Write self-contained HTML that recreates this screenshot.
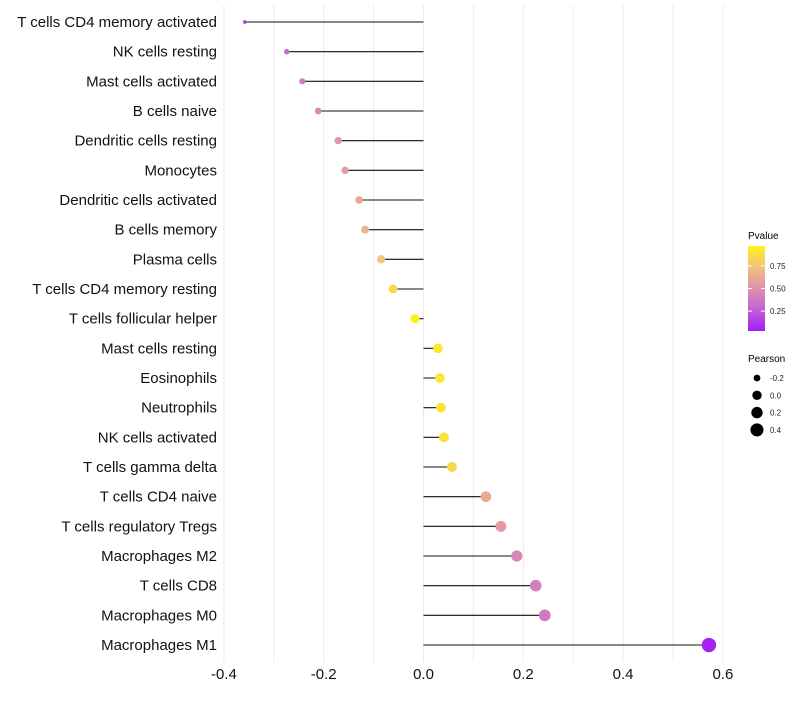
<!DOCTYPE html>
<html><head><meta charset="utf-8"><style>
body{margin:0;background:#fff;font-family:"Liberation Sans",sans-serif}
</style></head><body>
<svg id="chart" width="800" height="700" xmlns="http://www.w3.org/2000/svg" font-family="Liberation Sans, sans-serif">
<defs><linearGradient id="pg" x1="0" y1="1" x2="0" y2="0">
<stop offset="0" stop-color="#a21ff5"/><stop offset="0.3" stop-color="#c86cd0"/><stop offset="0.5" stop-color="#df90ac"/><stop offset="0.75" stop-color="#f3c07e"/><stop offset="1" stop-color="#fff21a"/></linearGradient></defs>
<g id="grid"></g>
<g id="marks"></g>
<g id="ylab"></g>
<g id="xlab"></g>
<g>
<text x="748" y="239" font-size="10">Pvalue</text>
<rect x="748" y="246" width="17" height="85" fill="url(#pg)"/>
<g id="cbticks"></g>
</g>
<g id="sizeleg">
<text x="748" y="362" font-size="10">Pearson</text>
</g>
</svg>
<script>
const categories=["T cells CD4 memory activated","NK cells resting","Mast cells activated","B cells naive","Dendritic cells resting","Monocytes","Dendritic cells activated","B cells memory","Plasma cells","T cells CD4 memory resting","T cells follicular helper","Mast cells resting","Eosinophils","Neutrophils","NK cells activated","T cells gamma delta","T cells CD4 naive","T cells regulatory  Tregs ","Macrophages M2","T cells CD8","Macrophages M0","Macrophages M1"];
const pearson=[-0.358,-0.274,-0.243,-0.211,-0.171,-0.157,-0.129,-0.117,-0.085,-0.061,-0.017,0.029,0.033,0.035,0.041,0.057,0.125,0.155,0.187,0.225,0.243,0.572];
const pvalues=[0.12,0.3,0.38,0.45,0.52,0.56,0.63,0.67,0.77,0.86,0.96,0.93,0.92,0.91,0.9,0.86,0.63,0.55,0.45,0.4,0.38,0.04];
const xTicks=[-0.4,-0.2,0,0.2,0.4,0.6];
const cbTicks=[0.25,0.5,0.75];
const sizeTicks=[-0.2,0,0.2,0.4];
const NS="http://www.w3.org/2000/svg";
const X=v=>423.5+v*499;
const Y=i=>22+i*29.667;
const R=v=>Math.sqrt(Math.max(1,22+52*v));
const cbY=p=>331-(p-0.03)/(0.97-0.03)*85;
function col(p){const s=[[0.03,[162,31,245]],[0.3,[200,108,208]],[0.5,[223,144,172]],[0.75,[243,192,126]],[0.97,[255,242,26]]];
 p=Math.min(0.97,Math.max(0.03,p));for(let k=0;k<s.length-1;k++){if(p<=s[k+1][0]){const t=(p-s[k][0])/(s[k+1][0]-s[k][0]);const c=s[k][1].map((a,j)=>Math.round(a+(s[k+1][1][j]-a)*t));return`rgb(${c})`;}}}
function mk(t,a,par){const e=document.createElementNS(NS,t);for(const k in a)e.setAttribute(k,a[k]);document.getElementById(par).appendChild(e);return e;}
for(let v=-0.4;v<=0.61;v+=0.1){const l=mk('line',{x1:X(v),x2:X(v),y1:5,y2:662,stroke:'#ebebeb','stroke-width':1},'grid');

}
xTicks.forEach(v=>{const t=mk('text',{x:X(v),y:679,'font-size':15,'text-anchor':'middle',fill:'#111'},'xlab');t.textContent=v.toFixed(1);

});
categories.forEach((c,i)=>{const t=mk('text',{x:217,y:Y(i)+5,'font-size':15,'text-anchor':'end',fill:'#111','xml:space':'preserve'},'ylab');t.textContent=c;


const l=mk('line',{x1:X(0),x2:X(pearson[i]),y1:Y(i),y2:Y(i),stroke:'#111','stroke-width':1.1},'marks');


const d=mk('circle',{cx:X(pearson[i]),cy:Y(i),r:R(pearson[i]),fill:col(pvalues[i])},'marks');

});
cbTicks.forEach(p=>{const l=mk('line',{x1:748,x2:752,y1:cbY(p),y2:cbY(p),stroke:'#fff'},'cbticks');


const l2=mk('line',{x1:761,x2:765,y1:cbY(p),y2:cbY(p),stroke:'#fff'},'cbticks');


const t=mk('text',{x:770,y:cbY(p)+3,'font-size':8,fill:'#222'},'cbticks');t.textContent=p.toFixed(2);

});
sizeTicks.forEach((v,k)=>{const y=378+k*17.3;const c=mk('circle',{cx:757,cy:y,r:R(v),fill:'#000'},'sizeleg');


const t=mk('text',{x:770,y:y+3,'font-size':8,fill:'#222'},'sizeleg');t.textContent=v.toFixed(1);

});
</script>
</body></html>
